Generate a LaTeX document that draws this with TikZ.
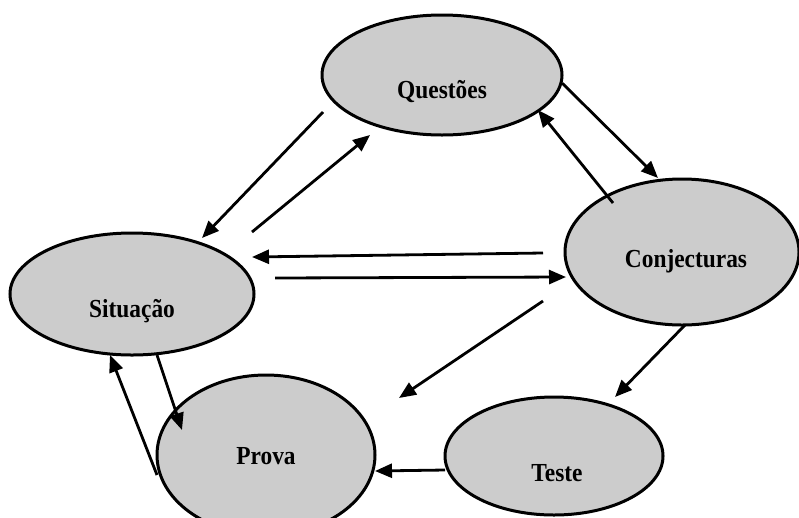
\documentclass[tikz,border=0pt]{standalone}
\usepackage{fontspec}
\setmainfont{Liberation Serif}
\newfontfamily\lblfont[FakeStretch=0.9]{Liberation Serif Bold}
\usetikzlibrary{shapes.geometric,arrows.meta}
\tikzset{
  ell/.style={ellipse, draw=black, line width=3pt, fill=black!20, inner sep=0pt},
  lbl/.style={anchor=base, inner sep=0pt, font=\lblfont\fontsize{26}{30}\selectfont},
  conn/.style={line width=2.8pt, -{Triangle[length=17pt,width=14pt]}},
}
\begin{document}
\begin{tikzpicture}[x=1pt,y=-1pt]
\useasboundingbox (0,0) rectangle (799,517);
% ellipses
\node[ell, minimum width=240pt, minimum height=120pt] (q) at (442,75) {};
\node[ell, minimum width=244pt, minimum height=122pt] (s) at (132,294) {};
\node[ell, minimum width=234pt, minimum height=146pt] (c) at (682,252) {};
\node[ell, minimum width=218pt, minimum height=160pt] (p) at (266,455) {};
\node[ell, minimum width=218pt, minimum height=118pt] (t) at (554,456) {};
% labels
\node[lbl] (ql) at (442,98) {Questões};
\node[lbl] (sl) at (132,317) {Situação};
\node[lbl] (cl) at (686,267) {Conjecturas};
\node[lbl] (pl) at (266,464) {Prova};
\node[lbl] (tl) at (557,481) {Teste};
% connector end points
\coordinate (qs1) at (323,112);  \coordinate (qs2) at (202,238);
\coordinate (sq1) at (252,232);  \coordinate (sq2) at (370,135);
\coordinate (qc1) at (562,83);   \coordinate (qc2) at (658,178);
\coordinate (cq1) at (613,203);  \coordinate (cq2) at (538,110);
\coordinate (cs1) at (543,253);  \coordinate (cs2) at (252,257);
\coordinate (sc1) at (275,278);  \coordinate (sc2) at (566,277);
\coordinate (cp1) at (543,301);  \coordinate (cp2) at (399,398);
\coordinate (ct1) at (685,325);  \coordinate (ct2) at (615,397);
\coordinate (tp1) at (445,470);  \coordinate (tp2) at (375,471);
\coordinate (sp1) at (157,355);  \coordinate (sp2) at (182,430);
\coordinate (ps1) at (157,475);  \coordinate (ps2) at (110,355);
% connectors
\draw[conn] (qs1) -- (qs2);
\draw[conn] (sq1) -- (sq2);
\draw[conn] (qc1) -- (qc2);
\draw[conn] (cq1) -- (cq2);
\draw[conn] (cs1) -- (cs2);
\draw[conn] (sc1) -- (sc2);
\draw[conn] (cp1) -- (cp2);
\draw[conn] (ct1) -- (ct2);
\draw[conn] (tp1) -- (tp2);
\draw[conn] (sp1) -- (sp2);
\draw[conn] (ps1) -- (ps2);
\end{tikzpicture}
\end{document}
